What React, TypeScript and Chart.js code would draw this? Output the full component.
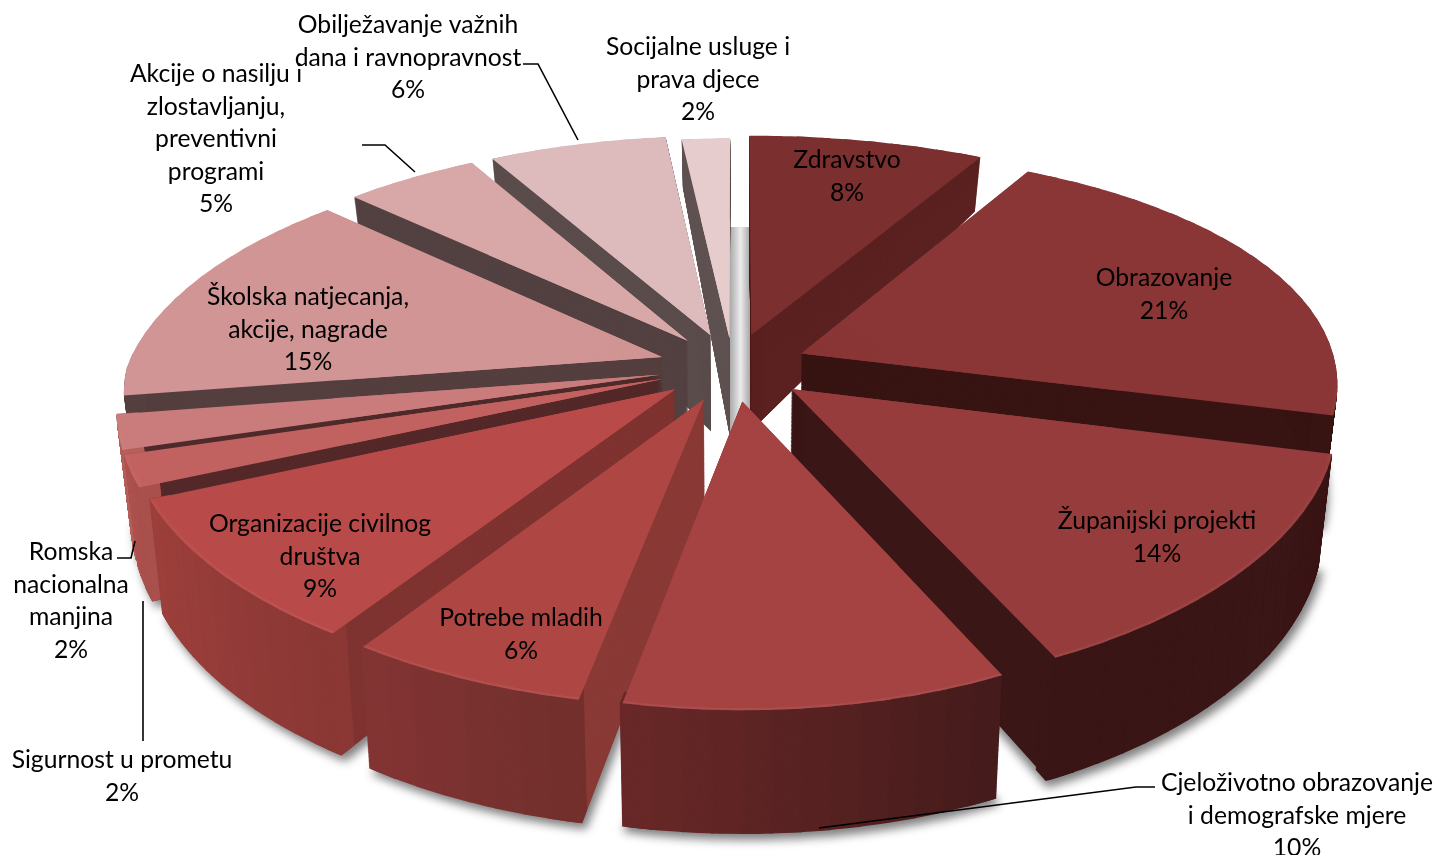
import React, { useEffect, useRef } from "react";
import { Chart, registerables } from "chart.js";

Chart.register(...registerables);

// ---- data ----
const categoryLines: string[][] = [
  ["Zdravstvo"],
  ["Obrazovanje"],
  ["Županijski projekti"],
  ["Cjeloživotno obrazovanje", "i demografske mjere"],
  ["Potrebe mladih"],
  ["Organizacije civilnog", "društva"],
  ["Sigurnost u prometu"],
  ["Romska", "nacionalna", "manjina"],
  ["Školska natjecanja,", "akcije, nagrade"],
  ["Akcije o nasilju i", "zlostavljanju,", "preventivni", "programi"],
  ["Obilježavanje važnih", "dana i ravnopravnost"],
  ["Socijalne usluge i", "prava djece"],
];
// The labels show them rounded to whole percent.
const values = [8, 21, 14, 10.1, 6.2, 9, 2, 2.2, 14.5, 4.8, 6.45, 1.75];

// ---- styles ----
const topColors = ["#7b2f2f", "#8a3636", "#973c3c", "#a54242", "#ae4644", "#b84b49", "#c26260", "#c97c7b", "#d09594", "#d8a8a8", "#ddbbbd", "#e6cccc"];
const cutColors = ["#5a2120", "#381513", "#3b1616", "#3b1616", "#8a3a36", "#7f3330", "#552929", "#4f2b2b", "#553f3f", "#544242", "#5b4c4c", "#615353"];
const rimStart = ["#5a2120", "#381513", "#3b1616", "#451c1c", "#72302d", "#8a3835", "#a8504c", "#b5605c", "#553f3f", "#544242", "#5b4c4c", "#615353"];
const rimEnd = ["#5a2120", "#381513", "#3b1616", "#6a2828", "#833534", "#9e403c", "#b0534f", "#b5605c", "#553f3f", "#544242", "#5b4c4c", "#615353"];
const sliceOffsets = [14, 14, 14, 14, 14, 14, 14, 14, 14, 14, 14, 12];

// ---- label layout: centre x, first line centre y, line step ----
const labelAnchors: [number, number][] = [
  [847, 159], [1164, 277], [1157, 520], [1297, 782], [521, 617], [320, 523],
  [122, 759], [71, 551], [308, 296], [216, 73], [408, 24], [698, 46],
];
const lineStep = 32.6;
const leaderLines: [number, number][][] = [
  [[523, 64], [538, 64], [578, 140]],
  [[362, 145], [385, 145], [415, 172]],
  [[117, 558], [131, 558], [135, 541]],
  [[143, 741], [143, 601]],
  [[819, 828], [1136, 787], [1155, 787]],
];

// ---- projection of the pie's plane ----
const CX = 733, CY = 367, A = 535, B = 243, PX_RIGHT = 0.115, PX_LEFT_FRONT = 0.13, PX_LEFT_BACK = 0.19, PY = 0.17, CONV = 0.022;
const LAYERS = 130;
const STEP = (3 * Math.PI) / 180;

function depthAt(Y: number): number {
  return 101 + 34 * Y - 12.3 * Y * Y;
}

function project(X: number, Y: number, h: number): [number, number] {
  const px = X >= 0 ? PX_RIGHT : Y > 0 ? PX_LEFT_FRONT : PX_LEFT_BACK;
  return [CX + (A * X * (1 - CONV * h)) / (1 - px * Y), CY + (B * Y) / (1 - PY * Y) + depthAt(Y) * h];
}

function lerpHex(a: string, b: string, t: number): string {
  const pa = [1, 3, 5].map((i) => parseInt(a.slice(i, i + 2), 16));
  const pb = [1, 3, 5].map((i) => parseInt(b.slice(i, i + 2), 16));
  return `rgb(${pa.map((v, i) => Math.round(v + (pb[i] - v) * t)).join(",")})`;
}

function drawPiece(ctx: CanvasRenderingContext2D, arc: any, a0: number, a1: number, h: number, color: string, innerFrac: number, extend = 0, outerFrac = 1) {
  const e = (arc.options.offset || 0) / 100;
  const mid = (arc.startAngle + arc.endAngle) / 2;
  const ox = e * Math.cos(mid), oy = e * Math.sin(mid);
  const R = arc.outerRadius;
  const T = project(ox, oy, h);
  const P1 = project(ox + Math.cos(a0), oy + Math.sin(a0), h);
  const P2 = project(ox + Math.cos(a1), oy + Math.sin(a1), h);
  const v1x = R * Math.cos(a0), v1y = R * Math.sin(a0), v2x = R * Math.cos(a1), v2y = R * Math.sin(a1);
  const det = v1x * v2y - v2x * v1y;
  const ux = P1[0] - T[0], uy = P1[1] - T[1], wx = P2[0] - T[0], wy = P2[1] - T[1];
  const a = (ux * v2y - wx * v1y) / det;
  const c = (-ux * v2x + wx * v1x) / det;
  const b = (uy * v2y - wy * v1y) / det;
  const d = (-uy * v2x + wy * v1x) / det;
  const g = Object.create(arc);
  g.options = { ...arc.options, offset: 0, borderWidth: 0, backgroundColor: color };
  g.startAngle = a0;
  g.endAngle = a1 + extend;
  g.circumference = a1 + extend - a0;
  g.innerRadius = R * innerFrac;
  g.outerRadius = R * outerFrac;
  ctx.save();
  ctx.setTransform(a, b, c, d, T[0] - a * arc.x - c * arc.y, T[1] - b * arc.x - d * arc.y);
  g.draw(ctx);
  ctx.restore();
}

function subSectors(arc: any): [number, number][] {
  const span = arc.endAngle - arc.startAngle;
  const n = Math.max(2, Math.ceil(span / STEP));
  const out: [number, number][] = [];
  for (let i = 0; i < n; i++) out.push([arc.startAngle + (span * i) / n, arc.startAngle + (span * (i + 1)) / n]);
  return out;
}

const midSin = (arc: any) => Math.sin((arc.startAngle + arc.endAngle) / 2);

const pie3d = {
  id: "pie3d",
  beforeDatasetDraw(chart: any) {
    const ctx: CanvasRenderingContext2D = chart.ctx;
    const arcs: any[] = chart.getDatasetMeta(0).data;
    const order = arcs.map((_, i) => i).sort((p, q) => midSin(arcs[p]) - midSin(arcs[q]));

    // soft shadow under the front of the pie
    const off = document.createElement("canvas");
    off.width = chart.width; off.height = chart.height;
    const offCtx = off.getContext("2d")!;
    arcs.filter((arc) => midSin(arc) > -0.6).forEach((arc) =>
      subSectors(arc).forEach(([s, t]) => drawPiece(offCtx, arc, s, t, 1, "#000", 0, 0.01)));
    ctx.save();
    ctx.filter = "blur(5px)";
    ctx.globalAlpha = 0.5;
    ctx.drawImage(off, 4, 6);
    ctx.restore();

    // shaded well behind the back slices
    const well = ctx.createLinearGradient(729, 0, 750, 0);
    well.addColorStop(0, "#a4a4a4");
    well.addColorStop(0.55, "#ececec");
    well.addColorStop(1, "#a8a8a8");
    ctx.fillStyle = well;
    ctx.fillRect(729, 227, 21, 210);

    for (const i of order) {
      const arc = arcs[i];
      const subs = subSectors(arc);
      const span = arc.endAngle - arc.startAngle;
      const last = subs[subs.length - 1];
      for (let l = LAYERS; l > 0; l--) {
        const h = l / LAYERS;
        drawPiece(ctx, arc, arc.startAngle, arc.endAngle, h, cutColors[i], 0, 0, 0.6);
        drawPiece(ctx, arc, subs[0][0], subs[0][1], h, cutColors[i], 0, 0.01);
        drawPiece(ctx, arc, last[0], last[1], h, cutColors[i], 0);
      }
      for (let l = LAYERS; l > 0; l--) {
        const h = l / LAYERS;
        subs.forEach(([s, t]) => {
          if (Math.sin((s + t) / 2) < -0.15) return;
          const f = ((s + t) / 2 - arc.startAngle) / span;
          drawPiece(ctx, arc, s, t, h, lerpHex(rimStart[i], rimEnd[i], f), 0.96, 0.005);
        });
      }
      drawPiece(ctx, arc, arc.startAngle, arc.endAngle, 0, topColors[i], 0, 0, 0.6);
      subs.forEach(([s, t], j) => drawPiece(ctx, arc, s, t, 0, topColors[i], 0, j < subs.length - 1 ? 0.02 : 0));
      subs.forEach(([s, t]) => {
        const y = Math.sin((s + t) / 2);
        if (y > 0) drawPiece(ctx, arc, s, t, 0, `rgba(255,255,255,${(0.06 * y).toFixed(3)})`, 0.993);
      });
    }
    return false;
  },
  afterDraw(chart: any) {
    const ctx: CanvasRenderingContext2D = chart.ctx;
    ctx.save();
    ctx.strokeStyle = "#000";
    ctx.lineWidth = 1.6;
    leaderLines.forEach((pts) => {
      ctx.beginPath();
      pts.forEach(([x, y], k) => (k ? ctx.lineTo(x, y) : ctx.moveTo(x, y)));
      ctx.stroke();
    });
    ctx.fillStyle = "#000";
    ctx.font = "24.7px Lato";
    ctx.textAlign = "center";
    ctx.textBaseline = "middle";
    categoryLines.forEach((lines, i) => {
      const [x, y0] = labelAnchors[i];
      [...lines, `${Math.round(values[i])}%`].forEach((t, k) => ctx.fillText(t, x, y0 + 1 + k * lineStep));
    });
    ctx.restore();
  },
};

export default function App() {
  const ref = useRef<HTMLCanvasElement>(null);
  useEffect(() => {
    document.body.style.margin = "0";
    document.body.style.overflow = "hidden";
    const chart = new Chart(ref.current!, {
      type: "pie",
      data: {
        labels: categoryLines.map((l) => l.join(" ")),
        datasets: [{ data: values, backgroundColor: topColors, borderWidth: 0, offset: sliceOffsets }],
      },
      options: {
        animation: false,
        responsive: false,
        plugins: { legend: { display: false }, tooltip: { enabled: false } },
      },
      plugins: [pie3d],
    } as any);
    return () => chart.destroy();
  }, []);
  return <canvas ref={ref} width={1435} height={855} style={{ display: "block" }} />;
}
